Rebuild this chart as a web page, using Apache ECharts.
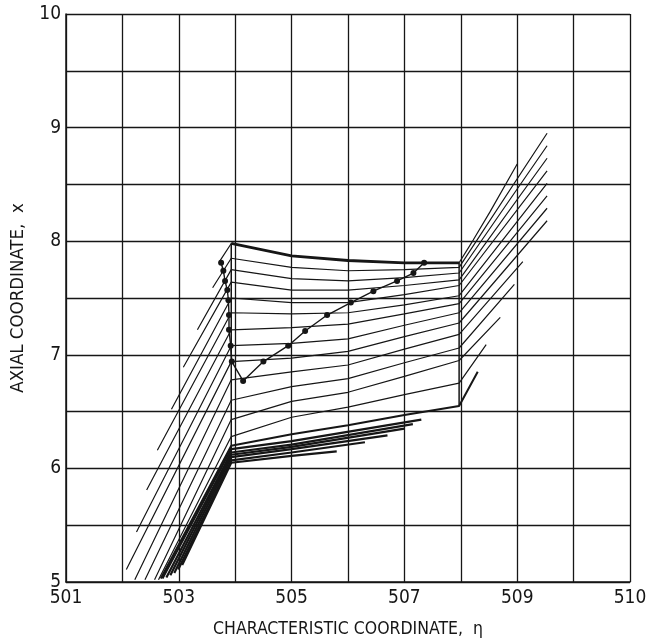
<!DOCTYPE html>
<html>
<head>
<meta charset="utf-8">
<script src="https://cdn.jsdelivr.net/npm/echarts@6/dist/echarts.min.js"></script>
<style>
  html, body { margin: 0; padding: 0; background: #fff; }
  #chart { width: 655px; height: 643px; }
</style>
</head>
<body>
<div id="chart"></div>
<script>
// tick labels (the last grid line is printed as 510 in the original)
const xTickValues = [501, 503, 505, 507, 509, 511];
const xTickText = ['501', '503', '505', '507', '509', '510'];
const yTickValues = [5, 6, 7, 8, 9, 10];

// eta of the two kinks
const etaKinkLeft = 503.93;
const etaKinkRight = 507.97;

// characteristics: left start, y at left kink, 505, 506, 507, right kink, right end
const leftStartX = [503.72, 503.60, 503.33, 503.08, 502.87, 502.62, 502.43, 502.25, 502.07, 502.22, 502.40, 502.57, 502.64, 502.68];
const leftStartY = [7.82, 7.59, 7.22, 6.89, 6.52, 6.16, 5.81, 5.44, 5.11, 5.02, 5.02, 5.02, 5.02, 5.03];
const kinkY = [7.98, 7.85, 7.75, 7.64, 7.50, 7.37, 7.22, 7.08, 6.94, 6.78, 6.60, 6.43, 6.28, 6.20];
const y505 = [7.87, 7.77, 7.67, 7.57, 7.46, 7.36, 7.24, 7.10, 6.97, 6.85, 6.72, 6.59, 6.45, 6.30];
const y506 = [7.83, 7.74, 7.65, 7.57, 7.46, 7.37, 7.27, 7.14, 7.03, 6.91, 6.79, 6.67, 6.54, 6.38];
const y507 = [7.81, 7.75, 7.68, 7.61, 7.53, 7.44, 7.36, 7.26, 7.16, 7.05, 6.93, 6.81, 6.65, 6.47];
const y508 = [7.81, 7.77, 7.72, 7.66, 7.61, 7.52, 7.45, 7.37, 7.28, 7.18, 7.06, 6.95, 6.75, 6.55];
const rightEndX = [509.00, 509.53, 509.53, 509.53, 509.53, 509.53, 509.53, 509.53, 509.53, 509.10, 508.95, 508.70, 508.45, 508.30];
const rightEndY = [8.68, 8.95, 8.84, 8.73, 8.62, 8.51, 8.40, 8.29, 8.18, 7.82, 7.62, 7.33, 7.09, 6.85];
// the first one bends on the right side
const firstRightMid = [[508.22, 8.01], [508.52, 8.26]];

// dense bundle at the bottom
const bundleStartX = [502.71, 502.78, 502.85, 502.92, 502.99, 503.06];
const bundleStartY = [5.03, 5.04, 5.06, 5.08, 5.11, 5.15];
const bundleKinkY = [6.17, 6.14, 6.12, 6.10, 6.07, 6.05];
const bundle505Y = [6.24, 6.21, 6.19, 6.17, 6.14, 6.11];
const bundleEndX = [507.30, 507.15, 507.00, 506.70, 506.30, 505.80];
const bundleEndY = [6.43, 6.39, 6.35, 6.29, 6.23, 6.15];

// dotted curve (computed points)
const dotX = [503.75, 503.79, 503.82, 503.86, 503.88, 503.89, 503.89, 503.92, 503.94, 504.14, 504.50, 504.94, 505.24, 505.63, 506.05, 506.45, 506.87, 507.16, 507.35];
const dotY = [7.81, 7.74, 7.65, 7.57, 7.48, 7.35, 7.22, 7.08, 6.94, 6.77, 6.94, 7.08, 7.21, 7.35, 7.46, 7.56, 7.65, 7.72, 7.81];

const ink = '#161616';
const font = "'Liberation Sans Narrow', 'DejaVu Sans Condensed', 'Roboto Condensed', 'Liberation Sans', sans-serif";

let series = [];

// main characteristic lines
for (let i = 0; i < kinkY.length; i++) {
  let pts = [
    [leftStartX[i], leftStartY[i]],
    [etaKinkLeft, kinkY[i]],
    [505, y505[i]],
    [506, y506[i]],
    [507, y507[i]],
    [etaKinkRight, y508[i]]
  ];
  if (i === 0) pts = pts.concat(firstRightMid);
  pts.push([rightEndX[i], rightEndY[i]]);
  series.push({
    type: 'line',
    data: pts,
    showSymbol: false,
    lineStyle: { color: ink, width: i === kinkY.length - 1 ? 2 : 1.2 }
  });
}

// top characteristic is drawn heavy between the kinks
series.push({
  type: 'line',
  data: [[etaKinkLeft, kinkY[0]], [505, y505[0]], [506, y506[0]], [507, y507[0]], [etaKinkRight, y508[0]]],
  showSymbol: false,
  lineStyle: { color: ink, width: 2.8 }
});

// bundle
for (let i = 0; i < bundleStartX.length; i++) {
  series.push({
    type: 'line',
    data: [
      [bundleStartX[i], bundleStartY[i]],
      [etaKinkLeft, bundleKinkY[i]],
      [505, bundle505Y[i]],
      [bundleEndX[i], bundleEndY[i]]
    ],
    showSymbol: false,
    lineStyle: { color: ink, width: 2.2 }
  });
}

// vertical kink lines
series.push({
  type: 'line',
  data: [[etaKinkLeft, bundleKinkY[bundleKinkY.length - 1]], [etaKinkLeft, kinkY[0]]],
  showSymbol: false,
  lineStyle: { color: ink, width: 1.5 }
});
series.push({
  type: 'line',
  data: [[etaKinkRight, y508[y508.length - 1]], [etaKinkRight, y508[0]]],
  showSymbol: false,
  lineStyle: { color: ink, width: 1.5 }
});

// dotted curve
series.push({
  type: 'line',
  data: dotX.map((x, i) => [x, dotY[i]]),
  symbol: 'circle',
  symbolSize: 6,
  itemStyle: { color: ink },
  lineStyle: { color: ink, width: 1.4 }
});

let chart = echarts.init(document.getElementById('chart'));
chart.setOption({
  animation: false,
  backgroundColor: '#fff',
  textStyle: { fontFamily: font },
  grid: { left: 66, right: 25, top: 14, bottom: 57 },
  xAxis: {
    type: 'value',
    min: 501,
    max: 511,
    interval: 1,
    name: 'CHARACTERISTIC COORDINATE,  η',
    nameLocation: 'middle',
    nameGap: 38,
    nameTextStyle: { color: ink, fontSize: 17.5, fontFamily: font },
    axisLine: { show: true, lineStyle: { color: ink, width: 1.5 } },
    axisTick: { show: false },
    splitLine: { show: true, lineStyle: { color: ink, width: 1.3 } },
    axisLabel: {
      color: ink,
      fontSize: 19,
      margin: 7,
      showMinLabel: true,
      showMaxLabel: true,
      formatter: v => {
        let k = xTickValues.indexOf(Math.round(v));
        return k >= 0 ? xTickText[k] : '';
      }
    }
  },
  yAxis: {
    type: 'value',
    min: 5,
    max: 10,
    interval: 0.5,
    name: 'AXIAL COORDINATE,  x',
    nameLocation: 'middle',
    nameGap: 38,
    nameTextStyle: { color: ink, fontSize: 18.5, fontFamily: font },
    axisLine: { show: true, lineStyle: { color: ink, width: 1.5 } },
    axisTick: { show: false },
    splitLine: { show: true, lineStyle: { color: ink, width: 1.3 } },
    axisLabel: {
      color: ink,
      fontSize: 19,
      margin: 5,
      formatter: v => yTickValues.indexOf(v) >= 0 ? String(v) : ''
    }
  },
  series: series
});
</script>
</body>
</html>
